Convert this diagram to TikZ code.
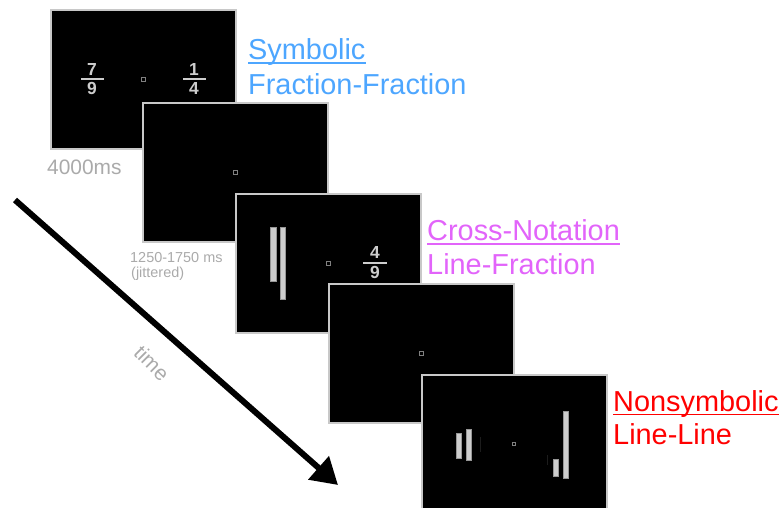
\documentclass[tikz,border=0pt]{standalone}
\usepackage{fontspec}
\setmainfont{Liberation Sans}
\usetikzlibrary{arrows.meta}
\definecolor{symblue}{RGB}{77,166,255}
\definecolor{crossmag}{RGB}{226,100,250}
\definecolor{nonred}{RGB}{255,0,0}
\definecolor{stimgray}{RGB}{205,205,205}
\definecolor{bargray}{RGB}{150,150,150}
\definecolor{lblgray}{RGB}{170,170,170}
\definecolor{framegray}{RGB}{200,200,200}
\definecolor{faintline}{RGB}{28,28,28}
\begin{document}
\begin{tikzpicture}[x=1bp,y=-1bp,
  screen/.style={draw=framegray, line width=1.5bp, fill=black, anchor=north west,
    minimum width=185bp, minimum height=139bp, inner sep=0pt, outer sep=0pt},
  fixmark/.style={draw=gray, fill=black, line width=0.7bp, minimum size=3.5bp, inner sep=0pt},
  frdig/.style={font=\bfseries\fontsize{17.5}{17.5}\selectfont, text=stimgray, inner sep=0pt, anchor=base},
  stimbar/.style={fill=stimgray, draw=bargray, line width=0.5bp},
  condlbl/.style={font=\fontsize{29}{29}\selectfont, inner sep=0pt, anchor=base west},
  timelbl/.style={text=lblgray, inner sep=0pt},
]
\useasboundingbox (0,0) rectangle (781,508);
\clip (0,0) rectangle (781,508);

% ---------- screen 1 ----------
\node[screen] (s1) at (51,10) {};
\node[fixmark] (f1) at (s1.center) {};
\node[frdig] (n1) at (92,76) {7};
\fill[stimgray] (81,78) rectangle (104,80);
\node[frdig] (d1) at (92,95) {9};
\node[frdig] (n2) at (194,76) {1};
\fill[stimgray] (183,78) rectangle (206,80);
\node[frdig] (d2) at (194,95) {4};

% ---------- screen 2 ----------
\node[screen] (s2) at (143,103) {};
\node[fixmark] (f2) at (s2.center) {};

% ---------- screen 3 ----------
\node[screen] (s3) at (236,194) {};
\node[fixmark] (f3) at (s3.center) {};
\draw[stimbar] (270,227) rectangle (276,281);
\draw[stimbar] (280,227) rectangle (285,299);
\node[frdig] (n3) at (375,259) {4};
\fill[stimgray] (363,262) rectangle (387,264);
\node[frdig] (d3) at (375,279) {9};

% ---------- screen 4 ----------
\node[screen] (s4) at (329,284) {};
\node[fixmark] (f4) at (s4.center) {};

% ---------- screen 5 ----------
\node[screen] (s5) at (422,375) {};
\node[fixmark] (f5) at (514,444) {};
\draw[stimbar] (456,433) rectangle (461,458);
\draw[stimbar] (466,429) rectangle (471,460);
\draw[stimbar] (553,459) rectangle (558,476);
\draw[stimbar] (563,411) rectangle (568,478);
\draw[faintline, line width=0.5bp] (480,437) -- (480,452);
\draw[faintline, line width=0.5bp] (547,455) -- (547,465);

% ---------- condition labels ----------
\node[condlbl, text=symblue] (sym) at (248,59.5) {Symbolic};
\draw[symblue, line width=1.8bp] ([yshift=-3.5bp]sym.base west) -- ([yshift=-3.5bp]sym.base east);
\node[condlbl, text=symblue] (symb) at (248,94.5) {Fraction-Fraction};

\node[condlbl, text=crossmag] (cro) at (427,240.5) {Cross-Notation};
\draw[crossmag, line width=1.8bp] ([yshift=-3.5bp]cro.base west) -- ([yshift=-3.5bp]cro.base east);
\node[condlbl, text=crossmag] (crob) at (427,274.5) {Line-Fraction};

\node[condlbl, text=nonred] (non) at (613,411) {Nonsymbolic};
\draw[nonred, line width=1.8bp] ([yshift=-3.5bp]non.base west) -- ([yshift=-3.5bp]non.base east);
\node[condlbl, text=nonred] (nonb) at (613,444.5) {Line-Line};

% ---------- timing labels ----------
\node[timelbl, anchor=base west, font=\fontsize{21}{21}\selectfont] (t1) at (47,175) {4000ms};
\node[timelbl, anchor=base west, font=\fontsize{14.5}{14.5}\selectfont] (t2) at (130,263) {1250-1750 ms};
\node[timelbl, anchor=base west, font=\fontsize{14.5}{14.5}\selectfont] (t3) at (131,278) {(jittered)};

% ---------- time arrow ----------
\coordinate (ta) at (15,200);
\coordinate (tb) at (338,485);
\draw[line width=6bp, -{Triangle[length=26bp,width=30bp]}] (ta) -- (tb);
\node[timelbl, font=\fontsize{21}{21}\selectfont, rotate=-45] (tl) at (152,363) {time};
\end{tikzpicture}
\end{document}
